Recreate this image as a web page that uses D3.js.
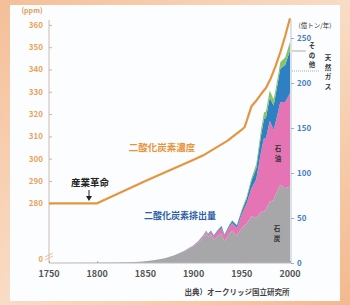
<!DOCTYPE html>
<html><head><meta charset="utf-8">
<script src="https://cdn.jsdelivr.net/npm/d3@7"></script>
<style>
html,body{margin:0;padding:0;background:#f6cba9;}
svg{display:block;font-family:"Noto Sans CJK JP","Noto Sans",sans-serif;}
</style></head><body>
<svg id="c" width="350" height="305"></svg>
<script>
// ---- data ----
const years = [1750,1800,1820,1840,1850,1860,1870,1880,1890,1900,1905,1910,1913,1915,1918,1921,1925,1929,1932,1937,1940,1945,1946,1950,1955,1960,1965,1970,1973,1975,1979,1983,1985,1990,1995,2000];
const coal  = [0.1,0.3,0.5,1.2,2,3.3,5.4,8.5,12.8,18.6,22.4,28.6,33,29.3,32,25.7,30,32.6,24.2,32.3,36,30.4,33,39,44,52,50,57,57,60,68,70,76,87,83,85];
const oil   = [0,0,0,0,0,0,0,0.1,0.3,0.8,1.5,1.6,2.1,2.3,2.8,4,5,6.6,5.7,7.7,8.4,8.4,9.2,15.5,22,31,43,67,82,78,90,78,80,92,96,104];
const gas   = [0,0,0,0,0,0,0,0,0.2,0.4,0.5,0.6,0.8,0.8,0.9,1.0,1.3,1.8,1.6,2,2.6,3,3.3,3.6,5.5,8.3,12.3,18,21,23,26,27,30,37,41,47];
const other = [0,0,0,0,0,0,0,0,0,0,0,0,0,0,0,0,0.3,0.4,0.3,0.5,0.6,0.5,0.7,1.5,2.2,3,4.4,6.2,7.3,7.3,7.7,7,6.6,7.3,8.4,9.5];
const seriesKeys = ["coal","oil","gas","other"];
const seriesColors = ["#a7a7aa","#e574b4","#2f80c2","#86c46c"];

const concYears = [1750,1800,1850,1900,1910,1935,1950,1953,1960,1965,1970,1975,1980,1985,1990,1995,2000];
const concVals  = [280,280,290,299.5,301.5,308,313,314.2,323.5,326,329,331.7,336,341.5,347.8,355,363];

const xTicks = [1750,1800,1850,1900,1950,2000];
const leftTicks = [280,290,300,310,320,330,340,350,360];
const rightTicks = [0,50,100,150,200,250];

// ---- scales ----
const svg = d3.select("#c");
const x = d3.scaleLinear().domain([1750,2000]).range([49,290]);
const yL = d3.scaleLinear().domain([280,360]).range([203.3,24.9]);
const yR = d3.scaleLinear().domain([0,250]).range([263,38]);

// background
const defs = svg.append("defs");
const g1 = defs.append("linearGradient").attr("id","bg").attr("x1","0").attr("x2","1").attr("y1","0").attr("y2","1");
g1.append("stop").attr("offset","0").attr("stop-color","#f4bf98");
g1.append("stop").attr("offset","0.5").attr("stop-color","#f9dcc5");
g1.append("stop").attr("offset","1").attr("stop-color","#f3b98e");
svg.append("rect").attr("width",350).attr("height",305).attr("fill","url(#bg)");
svg.append("rect").attr("x",10).attr("y",5).attr("width",330).attr("height",296).attr("fill","#fcfdfe");

// stacked areas
const table = years.map((yr,i)=>({year:yr,coal:coal[i],oil:oil[i],gas:gas[i],other:other[i]}));
const stack = d3.stack().keys(seriesKeys)(table);
const area = d3.area().x(d=>x(d.data.year)).y0(d=>yR(d[0])).y1(d=>yR(d[1]));
svg.selectAll("path.layer").data(stack).join("path").attr("class","layer")
  .attr("d",area).attr("fill",(d,i)=>seriesColors[i]);

// axes lines
svg.append("line").attr("x1",49).attr("x2",49).attr("y1",20).attr("y2",263).attr("stroke","#c9bdb6").attr("stroke-width",1);
svg.append("line").attr("x1",291).attr("x2",291).attr("y1",20).attr("y2",263).attr("stroke","#b9c6d4").attr("stroke-width",1);
svg.append("line").attr("x1",49).attr("x2",291).attr("y1",263).attr("y2",263).attr("stroke","#bbbbbb").attr("stroke-width",1);

// left axis
const gl = svg.append("g").attr("transform","translate(49,0)")
  .call(d3.axisRight(yL).tickValues(leftTicks).tickSize(3).tickFormat(""));
gl.select(".domain").remove();
gl.selectAll(".tick line").attr("stroke","#e8b080");
svg.selectAll("text.lt").data(leftTicks).join("text").attr("class","lt")
  .attr("x",43).attr("y",d=>yL(d)).attr("dy","0.35em").attr("text-anchor","end")
  .attr("font-size",8).attr("fill","#e9a25c").attr("font-weight","bold").text(d=>d);
svg.append("text").attr("x",43).attr("y",259).attr("dy","0.35em").attr("text-anchor","end")
  .attr("font-size",7.5).attr("fill","#e9a25c").attr("font-weight","bold").text("0");
svg.append("text").attr("x",32).attr("y",13).attr("text-anchor","middle")
  .attr("font-size",7).attr("fill","#e29a55").attr("font-weight","bold").text("(ppm)");
// axis break
svg.append("path").attr("d","M45,257 L53,253 M45,260 L53,256").attr("stroke","#e8b080").attr("stroke-width",0.8).attr("fill","none");

// right axis
const gr = svg.append("g").attr("transform","translate(291,0)")
  .call(d3.axisRight(yR).tickValues(rightTicks).tickSize(3).tickFormat(""));
gr.select(".domain").remove();
gr.selectAll(".tick line").attr("stroke","#9ab0c8");
svg.selectAll("text.rt").data(rightTicks).join("text").attr("class","rt")
  .attr("x",297).attr("y",d=>yR(d)).attr("dy","0.35em").attr("text-anchor","start")
  .attr("font-size",8).attr("fill","#4a7ec2").attr("font-weight","bold").text(d=>d);
svg.append("text").attr("x",315).attr("y",28).attr("text-anchor","middle")
  .attr("font-size",6.5).attr("fill","#333").text("(億トン/年)");

// x axis
const gx = svg.append("g").attr("transform","translate(0,263)")
  .call(d3.axisTop(x).tickValues(xTicks).tickSize(2).tickFormat(""));
gx.select(".domain").remove();
gx.selectAll(".tick line").attr("stroke","#aaa");
svg.selectAll("text.xt").data(xTicks).join("text").attr("class","xt")
  .attr("x",d=>x(d)).attr("y",274).attr("dy","0.35em").attr("text-anchor","middle")
  .attr("font-size",9).attr("fill","#555").attr("font-weight","bold").text(d=>d);

// concentration line
const line = d3.line().x((d,i)=>x(concYears[i])).y(d=>yL(d));
svg.append("path").datum(concVals).attr("d",line).attr("fill","none")
  .attr("stroke","#e6953f").attr("stroke-width",2.2).attr("stroke-linejoin","round");

// annotations
svg.append("text").attr("x",162).attr("y",148).attr("dy","0.35em").attr("text-anchor","middle")
  .attr("font-size",9.5).attr("fill","#e8923a").attr("font-weight","bold").text("二酸化炭素濃度");
svg.append("text").attr("x",180).attr("y",216).attr("dy","0.35em").attr("text-anchor","middle")
  .attr("font-size",9).attr("fill","#2b5ea8").attr("font-weight","bold").text("二酸化炭素排出量");
svg.append("text").attr("x",90).attr("y",183).attr("dy","0.35em").attr("text-anchor","middle")
  .attr("font-size",9.5).attr("fill","#222").attr("font-weight","bold").text("産業革命");
svg.append("line").attr("x1",89).attr("x2",89).attr("y1",190).attr("y2",197).attr("stroke","#222").attr("stroke-width",1);
svg.append("path").attr("d","M86,196 L92,196 L89,201 Z").attr("fill","#222");

function vtext(str,cx,y0,step,size,fill){
  str.split("").forEach((ch,i)=>{
    svg.append("text").attr("x",cx).attr("y",y0+i*step).attr("dy","0.35em").attr("text-anchor","middle")
      .attr("font-size",size).attr("fill",fill).attr("font-weight","bold").text(ch);
  });
}
vtext("石油",278,149,9.5,6.5,"#333");
vtext("石炭",277,229,9.5,6.5,"#333");
vtext("その他",312,46,9.5,6.5,"#333");
vtext("天然ガス",328,58,9.5,6.5,"#333");
svg.append("line").attr("x1",292).attr("x2",306).attr("y1",51).attr("y2",51).attr("stroke","#888").attr("stroke-width",0.7);
svg.append("line").attr("x1",292).attr("x2",319).attr("y1",71).attr("y2",71).attr("stroke","#888").attr("stroke-width",0.7).attr("stroke-dasharray","1,1");

svg.append("text").attr("x",237).attr("y",292).attr("dy","0.35em").attr("text-anchor","middle")
  .attr("font-size",7.5).attr("fill","#444").attr("font-weight","bold").text("出典）オークリッジ国立研究所");
</script></body></html>
